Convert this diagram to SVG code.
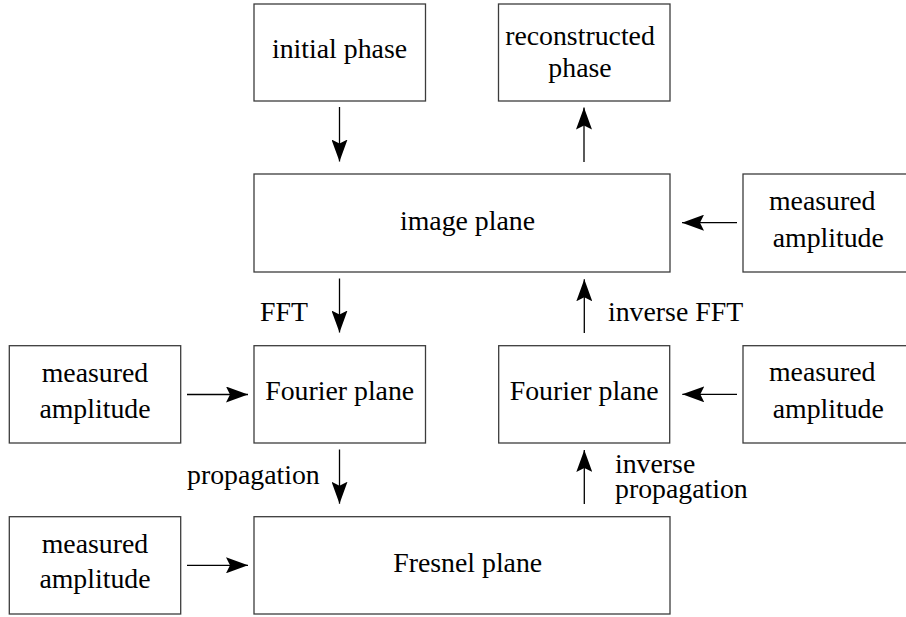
<svg xmlns="http://www.w3.org/2000/svg" width="906" height="617" viewBox="0 0 906 617">
<style>
  .box { fill: #ffffff; stroke: #3c3c3c; stroke-width: 1.3; }
  .t { font-family: "Liberation Serif", "Times New Roman", serif; font-size: 27.8px; fill: #000000; }
  .c { text-anchor: middle; }
  .edge { stroke: #000000; stroke-width: 1.3; fill: none; marker-end: url(#ah); }
</style>
<defs>
  <marker id="ah" viewBox="0 0 22 16" refX="22" refY="8" markerWidth="22" markerHeight="16" markerUnits="userSpaceOnUse" orient="auto">
    <path d="M0,0 L22,8 L0,16 L4,8 Z" fill="#000000"/>
  </marker>
</defs>
<rect width="906" height="617" fill="#ffffff"/>

<g id="initial-phase">
  <rect class="box" x="254" y="4" width="171.5" height="97"/>
  <text class="t c" x="339.5" y="58">initial phase</text>
</g>
<g id="reconstructed-phase">
  <rect class="box" x="498.5" y="4" width="171.5" height="97"/>
  <text class="t c" x="580" y="45">reconstructed</text>
  <text class="t c" x="580" y="77.3">phase</text>
</g>
<g id="image-plane">
  <rect class="box" x="254" y="174" width="416" height="98"/>
  <text class="t" x="400" y="230">image plane</text>
</g>
<g id="measured-amplitude-image">
  <rect class="box" x="743" y="174" width="172" height="98"/>
  <text class="t" x="769" y="210">measured</text>
  <text class="t" x="772.7" y="246.7">amplitude</text>
</g>
<g id="fourier-plane-left">
  <rect class="box" x="254" y="345.7" width="171.5" height="97.3"/>
  <text class="t c" x="339.7" y="400">Fourier plane</text>
</g>
<g id="measured-amplitude-fourier-left">
  <rect class="box" x="9.3" y="345.7" width="171.4" height="97.3"/>
  <text class="t c" x="95" y="381.7">measured</text>
  <text class="t c" x="95" y="418.3">amplitude</text>
</g>
<g id="fourier-plane-right">
  <rect class="box" x="498.7" y="345.7" width="171" height="97.3"/>
  <text class="t c" x="584.2" y="400">Fourier plane</text>
</g>
<g id="measured-amplitude-fourier-right">
  <rect class="box" x="743" y="345.7" width="172" height="97.3"/>
  <text class="t" x="769" y="381">measured</text>
  <text class="t" x="772.7" y="417.7">amplitude</text>
</g>
<g id="fresnel-plane">
  <rect class="box" x="254" y="516.7" width="416" height="97.3"/>
  <text class="t c" x="467.7" y="571.7">Fresnel plane</text>
</g>
<g id="measured-amplitude-fresnel">
  <rect class="box" x="9.3" y="516.7" width="171.4" height="97.3"/>
  <text class="t c" x="95" y="552.7">measured</text>
  <text class="t c" x="95" y="588.3">amplitude</text>
</g>

<g id="connectors">
  <line class="edge" x1="339.5" y1="107" x2="339.5" y2="161.5"/>
  <line class="edge" x1="584" y1="162" x2="584" y2="107.5"/>
  <line class="edge" x1="737" y1="222.7" x2="682" y2="222.7"/>
  <line class="edge" x1="339.5" y1="278.5" x2="339.5" y2="332.5"/>
  <line class="edge" x1="584.3" y1="333" x2="584.3" y2="279.3"/>
  <line class="edge" x1="187" y1="394.5" x2="248" y2="394.5"/>
  <line class="edge" x1="737" y1="394.3" x2="682.3" y2="394.3"/>
  <line class="edge" x1="339.5" y1="449.5" x2="339.5" y2="503.7"/>
  <line class="edge" x1="584.3" y1="504" x2="584.3" y2="450"/>
  <line class="edge" x1="187" y1="565.3" x2="248" y2="565.3"/>
  <text class="t" x="260" y="321">FFT</text>
  <text class="t" x="608" y="320.7">inverse FFT</text>
  <text class="t" x="187" y="484.3">propagation</text>
  <text class="t" x="615" y="473.3">inverse<tspan x="615" y="498.3">propagation</tspan></text>
</g>
</svg>
